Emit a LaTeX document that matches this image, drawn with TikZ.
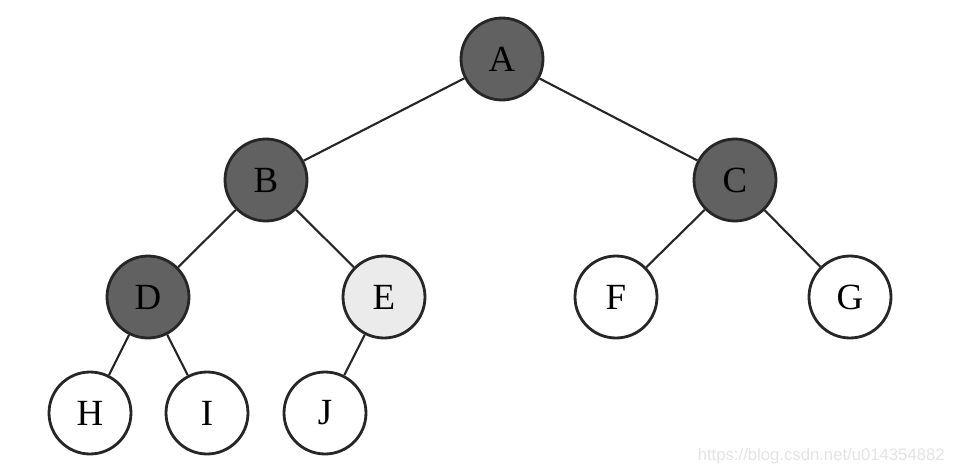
\documentclass[tikz,border=0pt]{standalone}
\usepackage{fontspec}
\setmainfont{Liberation Serif}
\newfontfamily\markfont{Liberation Sans}
\begin{document}
\begin{tikzpicture}[
  x=0.02cm, y=-0.02cm,
  treenode/.style = {circle, draw=black!85, line width=1.6pt,
                     minimum size=1.64cm, inner sep=0pt,
                     font=\fontsize{21}{21}\selectfont, text=black},
  darknode/.style = {treenode, fill=black!62},
  lightnode/.style = {treenode, fill=black!8},
  plainnode/.style = {treenode, fill=white},
  branch/.style = {draw=black!85, line width=1.2pt},
]

%% ── Canvas (954 x 474 px) ────────────────────────────────────────────────────
\useasboundingbox (0,0) rectangle (954,474);

%% ── Level 0 and 1 ────────────────────────────────────────────────────────────
\node[darknode]  (A) at (502, 59)  {A};
\node[darknode]  (B) at (266, 180) {B};
\node[darknode]  (C) at (735, 180) {C};

%% ── Level 2 ──────────────────────────────────────────────────────────────────
\node[darknode]  (D) at (148, 297) {D};
\node[lightnode] (E) at (384, 297) {E};
\node[plainnode] (F) at (616, 297) {F};
\node[plainnode] (G) at (850, 297) {G};

%% ── Level 3 ──────────────────────────────────────────────────────────────────
\node[plainnode] (H) at (90, 413)  {H};
\node[plainnode] (I) at (207, 413) {I};
\node[plainnode] (J) at (325, 413) {J};

%% ── Branches ─────────────────────────────────────────────────────────────────
\foreach \from/\to in {A/B, A/C, B/D, B/E, C/F, C/G, D/H, D/I, E/J}{
  \draw[branch] (\from) -- (\to);
}

%% ── Watermark ────────────────────────────────────────────────────────────────
\node[anchor=east, text=black!11, font=\markfont\fontsize{9.5}{9.5}\selectfont,
      inner sep=0pt] (mark) at (945, 456) {https://blog.csdn.net/u014354882};

\end{tikzpicture}
\end{document}
